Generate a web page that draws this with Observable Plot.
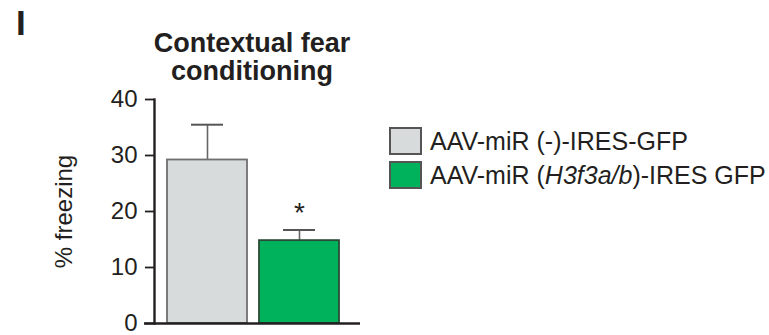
<!DOCTYPE html>
<html>
<head>
<meta charset="utf-8">
<script src="https://cdn.jsdelivr.net/npm/d3@7"></script>
<script src="https://cdn.jsdelivr.net/npm/@observablehq/plot@0.6"></script>
<style>
  html, body { margin: 0; padding: 0; background: #fff; }
  body { font-family: "Liberation Sans", Arial, Helvetica, sans-serif; color: #231f20; }
  #wrap { position: relative; width: 769px; height: 335px; overflow: hidden; }
  #wrap svg { position: absolute; left: 0; top: 0; }
  .panel { position: absolute; left: 16px; top: 2px; font-weight: bold; font-size: 35px; line-height: 42px; }
  .title { position: absolute; left: 127px; width: 250px; top: 29px; text-align: center;
           font-weight: bold; font-size: 27px; line-height: 28px; }
  .legend { position: absolute; left: 389px; top: 124px; }
  .item { display: flex; align-items: center; height: 34px; font-size: 25px; white-space: nowrap; }
  .sw { width: 29px; height: 24px; border: 2px solid #555; margin-right: 8px; box-sizing: content-box; }
</style>
</head>
<body>
<div id="wrap">
  <div class="panel">I</div>
  <div class="title">Contextual fear<br>conditioning</div>
  <div class="legend" id="legend"></div>
</div>
<script>
const groups = ["AAV-miR (-)-IRES-GFP", "AAV-miR (H3f3a/b)-IRES GFP"];
const legendHTML = ["AAV-miR (-)-IRES-GFP", "AAV-miR (<i>H3f3a/b</i>)-IRES GFP"];
const means = [29.2, 14.8];
const sems = [6.3, 1.9];
const significant = [false, true];
const fills = ["#d8dbdb", "#00b25c"];
const strokes = ["#6f6f6f", "#2b4a36"];
const yTicks = [0, 10, 20, 30, 40];

const data = groups.map((g, i) => ({
  group: g, mean: means[i], upper: means[i] + sems[i], sig: significant[i],
  fill: fills[i], stroke: strokes[i]
}));

const chart = Plot.plot({
  width: 769,
  height: 335,
  marginLeft: 154,
  marginRight: 409,
  marginTop: 99,
  marginBottom: 12,
  style: { fontFamily: "Liberation Sans, Arial, sans-serif", color: "#231f20", background: "transparent" },
  x: { domain: groups, paddingInner: 0.13, paddingOuter: 0.18, align: 0.39, axis: null },
  y: { domain: [0, 40], ticks: yTicks },
  marks: [
    Plot.ruleX(data, { x: "group", y1: "mean", y2: "upper", stroke: "#666", strokeWidth: 1.6 }),
    Plot.tickY(data, { x: "group", y: "upper", stroke: "#555", strokeWidth: 2, insetLeft: 24, insetRight: 24 }),
    Plot.barY(data, { x: "group", y: "mean", fill: "fill", stroke: "stroke", strokeWidth: 1.8 }),
    Plot.text(data.filter(d => d.sig), { x: "group", y: "upper", text: () => "*", dy: -17, fontSize: 28, fill: "#231f20" }),
    Plot.axisY({ ticks: yTicks, tickSize: 9, tickPadding: 8, fontSize: 24, strokeWidth: 1.8,
                 label: "% freezing", labelAnchor: "center", labelArrow: "none", labelOffset: 100 }),
    Plot.frame({ anchor: "left", strokeWidth: 2.4, stroke: "#231f20" }),
    Plot.ruleY([0], { strokeWidth: 2.4, stroke: "#231f20", insetLeft: -10 })
  ]
});
chart.querySelectorAll("text").forEach(t => { if (t.textContent === "% freezing") t.setAttribute("font-size", "24"); });
document.getElementById("wrap").prepend(chart);

const lg = document.getElementById("legend");
groups.forEach((g, i) => {
  const row = document.createElement("div");
  row.className = "item";
  row.innerHTML = `<div class="sw" style="background:${fills[i]}"></div><span>${legendHTML[i]}</span>`;
  lg.appendChild(row);
});
</script>
</body>
</html>
